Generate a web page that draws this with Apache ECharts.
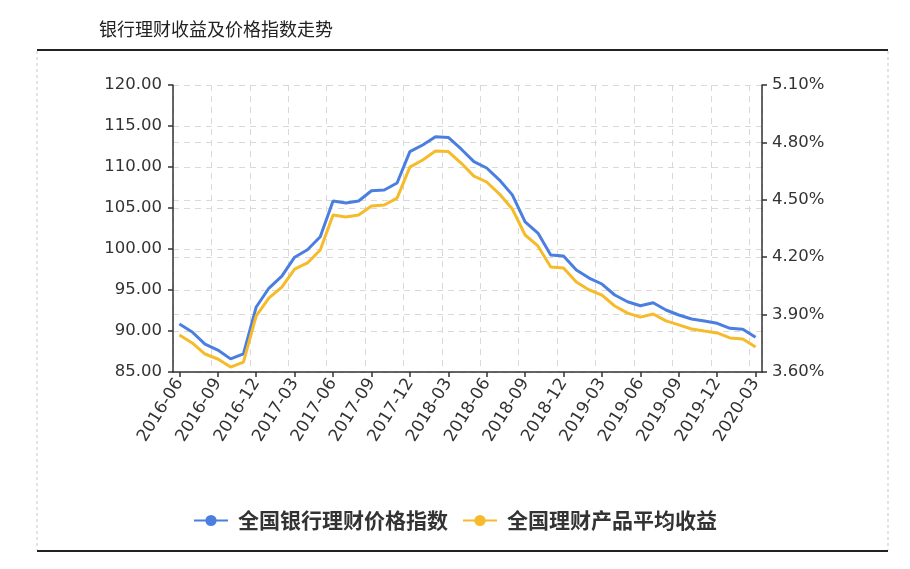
<!DOCTYPE html>
<html>
<head>
<meta charset="utf-8">
<title>银行理财收益及价格指数走势</title>
<script src="https://cdn.jsdelivr.net/npm/echarts@6/dist/echarts.min.js"></script>
<style>
  html, body { margin: 0; padding: 0; background: #fff; }
  #chart { width: 910px; height: 569px; }
</style>
</head>
<body>
<div id="chart"></div>
<script>
// 月份
var months = [
  '2016-06', '2016-07', '2016-08', '2016-09', '2016-10', '2016-11',
  '2016-12', '2017-01', '2017-02', '2017-03', '2017-04', '2017-05',
  '2017-06', '2017-07', '2017-08', '2017-09', '2017-10', '2017-11',
  '2017-12', '2018-01', '2018-02', '2018-03', '2018-04', '2018-05',
  '2018-06', '2018-07', '2018-08', '2018-09', '2018-10', '2018-11',
  '2018-12', '2019-01', '2019-02', '2019-03', '2019-04', '2019-05',
  '2019-06', '2019-07', '2019-08', '2019-09', '2019-10', '2019-11',
  '2019-12', '2020-01', '2020-02', '2020-03'
]
// 全国银行理财价格指数（左轴）
var priceIndex = [
  90.85, 89.88, 88.41, 87.68, 86.60, 87.20,
  92.93, 95.24, 96.70, 99.00, 99.90, 101.50,
  105.85, 105.60, 105.85, 107.10, 107.20, 108.05,
  111.87, 112.68, 113.70, 113.60, 112.20, 110.65,
  109.88, 108.41, 106.60, 103.30, 101.95, 99.27,
  99.15, 97.44, 96.46, 95.73, 94.39, 93.57,
  93.08, 93.45, 92.56, 91.95, 91.46, 91.22,
  90.94, 90.33, 90.21, 89.23
]
// 全国理财产品平均收益（右轴，%）
var avgYield = [
  3.793, 3.752, 3.694, 3.668, 3.626, 3.652,
  3.893, 3.987, 4.044, 4.138, 4.170, 4.238,
  4.421, 4.410, 4.421, 4.468, 4.473, 4.509,
  4.671, 4.708, 4.755, 4.752, 4.692, 4.624,
  4.593, 4.530, 4.452, 4.316, 4.259, 4.149,
  4.144, 4.070, 4.029, 4.002, 3.945, 3.908,
  3.887, 3.903, 3.867, 3.846, 3.825, 3.814,
  3.804, 3.778, 3.772, 3.731
]

var chart = echarts.init(document.getElementById('chart'))

var gridLine = {
  show: true,
  lineStyle: { color: '#d9d9d9', type: [6, 5], width: 1 }
}
var axisLine = { show: true, lineStyle: { color: '#333', width: 1.5 } }
var tickStyle = { show: true, length: 5, lineStyle: { color: '#333', width: 1.5 } }

var option = {
  animation: false,
  title: {
    text: '银行理财收益及价格指数走势',
    left: 94,
    top: 15,
    textStyle: {
      fontFamily: 'Noto Sans CJK SC',
      fontSize: 18,
      fontWeight: 'normal',
      color: '#222'
    }
  },
  graphic: [
    { type: 'line', shape: { x1: 37, y1: 50, x2: 888, y2: 50 }, style: { stroke: '#222', lineWidth: 2 } },
    { type: 'line', shape: { x1: 37, y1: 551, x2: 888, y2: 551 }, style: { stroke: '#222', lineWidth: 2 } },
    { type: 'line', shape: { x1: 37, y1: 51, x2: 37, y2: 550 }, style: { stroke: '#c8c8c8', lineWidth: 1, lineDash: [3, 3] } },
    { type: 'line', shape: { x1: 888, y1: 51, x2: 888, y2: 550 }, style: { stroke: '#c8c8c8', lineWidth: 1, lineDash: [3, 3] } }
  ],
  legend: {
    bottom: 33,
    left: 'center',
    itemWidth: 34,
    itemHeight: 14,
    itemGap: 14,
    textStyle: {
      fontFamily: 'Noto Sans CJK SC',
      fontSize: 21,
      fontWeight: 'bold',
      color: '#333',
      padding: [0, 0, 0, 5]
    },
    data: ['全国银行理财价格指数', '全国理财产品平均收益']
  },
  grid: { left: 173, right: 148, top: 85, bottom: 197 },
  xAxis: {
    type: 'category',
    data: months,
    boundaryGap: true,
    axisLine: axisLine,
    axisTick: { show: true, alignWithLabel: true, interval: 2, length: 5, lineStyle: { color: '#333', width: 1.5 } },
    axisLabel: {
      interval: 2,
      rotate: 58,
      margin: 8,
      fontFamily: 'DejaVu Sans',
      fontSize: 17,
      color: '#333'
    },
    splitLine: { show: true, interval: 2, lineStyle: { color: '#d9d9d9', type: [6, 5], width: 1 } }
  },
  yAxis: [
    {
      type: 'value',
      position: 'left',
      min: 85,
      max: 120,
      interval: 5,
      axisLine: axisLine,
      axisTick: tickStyle,
      axisLabel: {
        fontFamily: 'DejaVu Sans',
        fontSize: 16.5,
        color: '#333',
        margin: 11,
        formatter: function (v) { return v.toFixed(2) }
      },
      splitLine: gridLine
    },
    {
      type: 'value',
      position: 'right',
      min: 3.6,
      max: 5.1,
      interval: 0.3,
      axisLine: axisLine,
      axisTick: tickStyle,
      axisLabel: {
        fontFamily: 'DejaVu Sans',
        fontSize: 16.5,
        color: '#333',
        margin: 10,
        formatter: function (v) { return v.toFixed(2) + '%' }
      },
      splitLine: gridLine
    }
  ],
  series: [
    {
      name: '全国银行理财价格指数',
      type: 'line',
      yAxisIndex: 0,
      data: priceIndex,
      symbol: 'circle',
      symbolSize: 13,
      showSymbol: false,
      color: '#4a7fe0',
      lineStyle: { width: 3, color: '#4a7fe0' }
    },
    {
      name: '全国理财产品平均收益',
      type: 'line',
      yAxisIndex: 1,
      data: avgYield,
      symbol: 'circle',
      symbolSize: 13,
      showSymbol: false,
      color: '#f6bb2a',
      lineStyle: { width: 3, color: '#f6bb2a' }
    }
  ]
}

chart.setOption(option)
</script>
</body>
</html>
